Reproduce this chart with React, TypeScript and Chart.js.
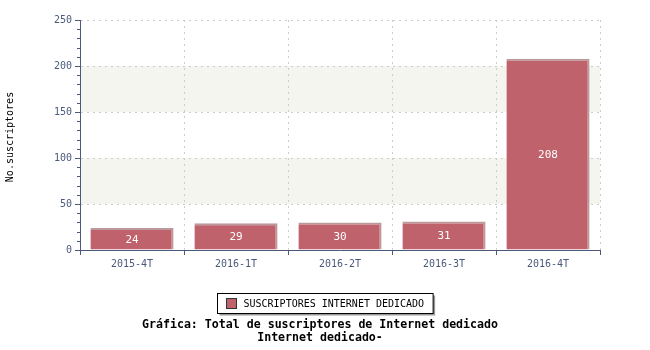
import React, { useEffect, useRef } from "react";
import { Chart, registerables } from "chart.js";

Chart.register(...registerables);

const categories = ["2015-4T", "2016-1T", "2016-2T", "2016-3T", "2016-4T"];
const values = [24, 29, 30, 31, 208];
const seriesName = "SUSCRIPTORES INTERNET DEDICADO";
const yTitle = "No.suscriptores";
const titleLines = ["Gráfica: Total de suscriptores de Internet dedicado", "Internet dedicado-"];
const bands = [[50, 100], [150, 200]];

const MONO = "'DejaVu Sans Mono', 'Liberation Mono', monospace";
const AXIS = "#4b5a7b";
const BAR = "#bf626b";

const customPlugin = {
  id: "custom",
  beforeDraw(chart: any) {
    const { ctx, chartArea, scales } = chart;
    const y = scales.y;
    ctx.save();
    ctx.fillStyle = "#f5f5f0";
    for (const [a, b] of bands) {
      const top = y.getPixelForValue(b);
      const bot = y.getPixelForValue(a);
      ctx.fillRect(chartArea.left, top, chartArea.right - chartArea.left, bot - top);
    }
    ctx.restore();
  },
  afterDraw(chart: any) {
    const { ctx, chartArea, scales } = chart;
    const y = scales.y;
    ctx.save();
    // minor ticks
    ctx.strokeStyle = AXIS;
    ctx.lineWidth = 1;
    for (let v = 0; v <= 250; v += 10) {
      if (v % 50 === 0) continue;
      const py = Math.round(y.getPixelForValue(v)) + 0.5;
      ctx.beginPath();
      ctx.moveTo(chartArea.left - 3, py);
      ctx.lineTo(chartArea.left, py);
      ctx.stroke();
    }
    // value labels
    const meta = chart.getDatasetMeta(0);
    ctx.fillStyle = "#ffffff";
    ctx.font = `11px ${MONO}`;
    ctx.textAlign = "center";
    ctx.textBaseline = "middle";
    meta.data.forEach((bar: any, i: number) => {
      const cy = (bar.y + bar.base) / 2 + 1;
      ctx.fillText(String(values[i]), bar.x, cy);
    });
    // y title
    ctx.save();
    ctx.translate(10, 137);
    ctx.rotate(-Math.PI / 2);
    ctx.fillStyle = "#000";
    ctx.font = `10px ${MONO}`;
    ctx.textAlign = "center";
    ctx.textBaseline = "middle";
    ctx.fillText(yTitle, 0, 0);
    ctx.restore();
    // legend
    ctx.font = `10px ${MONO}`;
    const tw = ctx.measureText(seriesName).width;
    const boxW = tw + 35;
    const boxH = 20;
    const cx = 325;
    const bx = Math.round(cx - boxW / 2) + 0.5;
    const by = 293.5;
    ctx.fillStyle = "#999999";
    ctx.fillRect(bx + 2, by + 2, boxW, boxH);
    ctx.fillStyle = "#ffffff";
    ctx.fillRect(bx, by, boxW, boxH);
    ctx.strokeStyle = "#000";
    ctx.strokeRect(bx, by, boxW, boxH);
    ctx.fillStyle = BAR;
    ctx.fillRect(bx + 9, by + 5, 10, 10);
    ctx.strokeStyle = "#333";
    ctx.strokeRect(bx + 9, by + 5, 10, 10);
    ctx.fillStyle = "#000";
    ctx.textAlign = "left";
    ctx.textBaseline = "middle";
    ctx.fillText(seriesName, bx + 26, by + boxH / 2 + 1);
    // title
    ctx.font = `bold 11.6px ${MONO}`;
    ctx.textAlign = "center";
    ctx.fillText(titleLines[0], 320, 325);
    ctx.fillText(titleLines[1], 320, 338);
    ctx.restore();
  },
};

export default function App() {
  const ref = useRef<HTMLCanvasElement>(null);
  useEffect(() => {
    document.body.style.margin = "0";
    const chart = new Chart(ref.current!, {
      type: "bar",
      data: {
        labels: categories,
        datasets: [
          {
            label: seriesName,
            data: values,
            backgroundColor: BAR,
            borderColor: "#bb9a9d",
            borderWidth: { top: 2, right: 2, left: 0, bottom: 0 } as any,
            borderSkipped: false,
            barPercentage: 0.8,
            categoryPercentage: 1,
          },
        ],
      },
      options: {
        responsive: false,
        animation: false,
        layout: { padding: { left: 0, right: 50, top: 20, bottom: 0 } },
        plugins: { legend: { display: false }, tooltip: { enabled: false }, title: { display: false } },
        scales: {
          x: {
            offset: true,
            grid: {
              offset: true,
              color: "#cccccc",
              tickColor: AXIS,
              tickBorderDash: [],
              tickLength: 5,
              drawTicks: true,
            } as any,
            border: { color: AXIS, width: 1, dash: [2, 4] } as any,
            ticks: { color: AXIS, font: { family: MONO, size: 10 }, padding: 3 },
            afterFit(scale: any) {
              scale.height = 100;
            },
          },
          y: {
            min: 0,
            max: 250,
            ticks: { stepSize: 50, color: AXIS, font: { family: MONO, size: 10 }, padding: 3 },
            grid: {
              color: (c: any) => (c.tick && c.tick.value === 0 ? "transparent" : "#cccccc"),
              tickColor: AXIS,
              tickBorderDash: [],
              tickLength: 5,
            } as any,
            border: { color: AXIS, width: 1, dash: [2, 4] } as any,
            afterFit(scale: any) {
              scale.width = 80;
            },
          },
        },
      },
      plugins: [customPlugin],
    });
    return () => chart.destroy();
  }, []);
  return (
    <div style={{ width: 650, height: 350 }}>
      <canvas ref={ref} width={650} height={350} />
    </div>
  );
}
